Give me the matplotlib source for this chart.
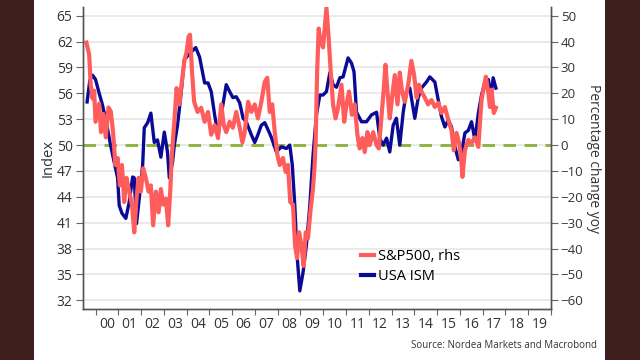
import matplotlib.pyplot as plt
from matplotlib.lines import Line2D
from matplotlib.patches import Rectangle

# USA ISM (lhs, index) - decimal year / value
ism_dates = [1999.63, 1999.75, 1999.87, 2000.0, 2000.16, 2000.3, 2000.5, 2000.66, 2000.82,
             2000.97, 2001.04, 2001.16, 2001.33, 2001.48, 2001.63, 2001.7, 2001.8, 2001.92,
             2002.07, 2002.14, 2002.29, 2002.43, 2002.58, 2002.72, 2002.87, 2003.02, 2003.16,
             2003.24, 2003.38, 2003.46, 2003.6, 2003.75, 2003.9, 2004.1, 2004.4, 2004.57,
             2004.79, 2004.94, 2005.08, 2005.23, 2005.38, 2005.52, 2005.74, 2005.89, 2006.03,
             2006.18, 2006.33, 2006.48, 2006.62, 2006.84, 2006.99, 2007.13, 2007.28, 2007.43,
             2007.57, 2007.72, 2007.94, 2008.16, 2008.38, 2008.53, 2008.64, 2008.75, 2008.85,
             2008.97, 2009.11, 2009.26, 2009.41, 2009.55, 2009.7, 2009.85, 2009.99, 2010.14,
             2010.29, 2010.43, 2010.58, 2010.73, 2010.87, 2011.09, 2011.24, 2011.35, 2011.46,
             2011.68, 2011.9, 2012.12, 2012.34, 2012.48, 2012.63, 2012.78, 2012.92, 2013.07,
             2013.21, 2013.36, 2013.51, 2013.65, 2013.8, 2014.02, 2014.17, 2014.31, 2014.53,
             2014.68, 2014.9, 2015.05, 2015.19, 2015.34, 2015.49, 2015.63, 2015.78, 2015.93,
             2016.07, 2016.22, 2016.37, 2016.51, 2016.66, 2016.81, 2016.95, 2017.1, 2017.25,
             2017.35, 2017.46, 2017.58]
ism_values = [55.0, 57.5, 58.1, 57.6, 56.0, 54.7, 52.3, 50.0, 48.0,
              46.2, 43.0, 42.1, 41.5, 43.4, 46.3, 46.2, 40.9, 43.8,
              47.7, 52.0, 52.6, 53.7, 50.3, 50.6, 48.6, 51.5, 49.2,
              46.2, 48.0, 50.0, 52.3, 55.8, 59.9, 60.5, 61.3, 60.2,
              57.2, 57.2, 56.2, 53.5, 51.2, 53.5, 57.0, 56.2, 55.5,
              55.6, 54.9, 53.1, 52.7, 51.2, 50.3, 51.2, 52.3, 52.6,
              51.8, 50.9, 49.2, 49.8, 49.6, 50.0, 47.7, 43.0, 37.2,
              33.1, 35.2, 38.4, 43.0, 48.8, 53.5, 55.8, 55.8, 56.2,
              58.4, 57.0, 56.7, 57.8, 57.9, 60.1, 59.5, 58.5, 53.8,
              52.7, 52.7, 53.5, 53.8, 50.8, 50.0, 50.8, 49.2, 52.3,
              53.1, 50.0, 53.8, 56.2, 56.6, 53.1, 55.5, 56.6, 57.3,
              57.9, 57.3, 55.2, 53.3, 52.1, 52.9, 52.1, 49.8, 48.3,
              49.1, 51.4, 51.7, 52.7, 50.6, 53.7, 55.8, 57.3, 57.6,
              55.5, 57.8, 56.6]

# S&P500 (rhs, % change yoy)
spx_dates = [1999.6, 1999.72, 1999.79, 1999.87, 1999.94, 2000.0, 2000.16, 2000.24, 2000.34,
             2000.45, 2000.57, 2000.67, 2000.77, 2000.87, 2000.97, 2001.07, 2001.16, 2001.26,
             2001.36, 2001.48, 2001.6, 2001.7, 2001.8, 2001.89, 2001.99, 2002.09, 2002.21,
             2002.33, 2002.43, 2002.53, 2002.65, 2002.77, 2002.87, 2002.97, 2003.09, 2003.19,
             2003.28, 2003.35, 2003.46, 2003.56, 2003.68, 2003.79, 2003.9, 2004.0, 2004.09,
             2004.15, 2004.24, 2004.33, 2004.48, 2004.64, 2004.79, 2004.94, 2005.08, 2005.23,
             2005.38, 2005.52, 2005.63, 2005.74, 2005.89, 2006.03, 2006.18, 2006.33, 2006.45,
             2006.55, 2006.7, 2006.84, 2006.99, 2007.13, 2007.28, 2007.43, 2007.54, 2007.65,
             2007.76, 2007.87, 2007.99, 2008.09, 2008.23, 2008.35, 2008.45, 2008.55, 2008.67,
             2008.76, 2008.85, 2008.94, 2009.04, 2009.14, 2009.23, 2009.33, 2009.43, 2009.55,
             2009.62, 2009.67, 2009.73, 2009.8, 2009.88, 2009.99, 2010.14, 2010.24, 2010.33, 2010.43,
             2010.54, 2010.65, 2010.8, 2010.92, 2011.02, 2011.13, 2011.26, 2011.38, 2011.5,
             2011.6, 2011.72, 2011.82, 2011.94, 2012.04, 2012.19, 2012.34, 2012.44, 2012.55,
             2012.66, 2012.73, 2012.82, 2012.92, 2013.02, 2013.14, 2013.26, 2013.36, 2013.46,
             2013.58, 2013.73, 2013.87, 2013.99, 2014.1, 2014.2, 2014.31, 2014.46, 2014.6,
             2014.75, 2014.9, 2015.05, 2015.19, 2015.34, 2015.49, 2015.63, 2015.73, 2015.85,
             2015.97, 2016.07, 2016.11, 2016.22, 2016.37, 2016.51, 2016.66, 2016.81, 2016.88,
             2016.95, 2017.05, 2017.14, 2017.25, 2017.32, 2017.39, 2017.49, 2017.58]
spx_values = [39.6, 35.0, 23.0, 18.0, 21.0, 9.0, 16.0, 5.0, 12.0,
              3.0, 14.5, 13.0, 5.0, -7.7, -5.0, -15.6, -7.7, -22.0,
              -12.7, -18.0, -23.0, -33.7, -20.7, -12.7, -18.0, -9.0, -12.7,
              -18.0, -15.6, -31.0, -18.0, -26.0, -17.0, -23.0, -20.7, -31.0,
              -18.0, -4.0, 9.0, 22.0, 15.7, 24.4, 32.5, 36.0, 42.0,
              42.6, 28.0, 16.7, 12.8, 14.4, 9.0, 12.8, 4.0, 7.7,
              2.7, 15.7, 7.7, 5.0, 9.0, 6.7, 12.8, 6.7, 1.0,
              5.0, 16.7, 12.8, 15.7, 10.3, 16.7, 24.4, 26.0, 12.8,
              15.7, 5.0, -4.0, -7.7, -5.0, -10.4, -7.7, -22.0, -23.0,
              -38.7, -43.7, -33.7, -38.7, -46.7, -33.7, -36.0, -26.0, -16.7,
              -8.0, 2.7, 28.0, 45.0, 40.0, 37.7, 53.0, 41.0, 28.0, 15.7,
              10.3, 14.4, 23.3, 9.0, 15.7, 20.7, 11.7, 15.7, 4.0,
              -1.3, 2.7, -2.7, 5.0, 0.0, 5.0, 0.0, -1.3, 10.3,
              22.0, 31.0, 20.7, 10.3, 18.3, 27.0, 15.7, 28.0, 20.7,
              16.7, 23.3, 32.5, 27.0, 18.3, 23.3, 20.7, 18.3, 15.7,
              17.4, 14.7, 16.3, 12.4, 14.7, 9.7, 5.7, -2.0, 4.7,
              0.7, -7.0, -12.3, -2.0, 2.0, 0.7, 3.0, -0.7, 8.7,
              17.4, 22.4, 26.4, 20.0, 14.7, 21.4, 12.4, 14.4]

years = list(range(2000, 2021))
year_labels = [f"{y % 100:02d}" for y in range(2000, 2020)]
left_ticks = list(range(32, 66, 3))
right_ticks = list(range(-60, 51, 10))

RED = "#ff5c5c"
BLUE = "#0a0a96"
GREEN = "#8db43c"
TXT = "#333333"

plt.rcParams["font.family"] = ["Open Sans", "DejaVu Sans"]

fig = plt.figure(figsize=(6.4, 3.6), dpi=100, facecolor="#3e1d1d")
fig.patches.append(Rectangle((34 / 640, 0), (605 - 34) / 640, 1, transform=fig.transFigure,
                             facecolor="white", edgecolor="none", zorder=-10))

ax = fig.add_axes([83 / 640, 1 - 309 / 360, (551 - 83) / 640, (309 - 7) / 360])
ax.set_facecolor("none")
ax2 = ax.twinx()

ax.axhline(50, color=GREEN, linestyle=(0, (4.3, 2.9)), linewidth=2.1, zorder=1)
ax.plot(ism_dates, ism_values, color=BLUE, linewidth=2.4, zorder=2)
ax2.plot(spx_dates, spx_values, color=RED, linewidth=3)

ax.set_xlim(1999.45, 2020)
ax.set_ylim(31, 66)
ax2.set_ylim(-63.33, 53.33)

ax.set_yticks(left_ticks)
ax2.set_yticks(right_ticks)
ax.set_xticks(years)
ax.set_xticklabels([])
ax.set_xticks([y + 0.5 for y in range(2000, 2020)], minor=True)
ax.set_xticklabels(year_labels, minor=True)
ax.tick_params(axis="x", which="minor", length=0, pad=6, labelsize=10, labelcolor=TXT)
ax.tick_params(axis="x", which="major", length=4, color="#666666")
ax.tick_params(axis="y", length=5, pad=2.5, color="#666666", labelsize=10, labelcolor=TXT)
ax2.tick_params(axis="y", length=5, pad=2, color="#666666", labelsize=9.5, labelcolor=TXT)

ax.grid(axis="y", color="#e6e6e6", linewidth=1.2)
ax.set_axisbelow(True)

for a in (ax, ax2):
    a.spines["top"].set_visible(False)
    for s in ("left", "right", "bottom"):
        a.spines[s].set_color("#555555")
        a.spines[s].set_linewidth(1)

# axis titles placed in figure pixels, as in the reference
fig.text(48 / 640, 1 - 158 / 360, "Index", rotation=90, ha="center", va="center",
         fontsize=10.5, color=TXT)
fig.text(594 / 640, 1 - 158 / 360, "Percentage change yoy", rotation=270, ha="center",
         va="center", fontsize=10, color=TXT)

handles = [Line2D([], [], color=RED, linewidth=3), Line2D([], [], color=BLUE, linewidth=3)]
ax2.legend(handles, ["S&P500, rhs", "USA ISM"], loc="upper left",
           bbox_to_anchor=(361 / 640, 1 - 249 / 360), bbox_transform=fig.transFigure,
           frameon=False, fontsize=10.5, handlelength=0.9, handletextpad=0.3,
           borderpad=0, labelspacing=0.35, borderaxespad=0)

fig.text(597 / 640, 1 - 345 / 360, "Source: Nordea Markets and Macrobond", ha="right",
         va="center", fontsize=7, color=TXT)

fig.savefig("out.png", dpi=100, facecolor=fig.get_facecolor())
